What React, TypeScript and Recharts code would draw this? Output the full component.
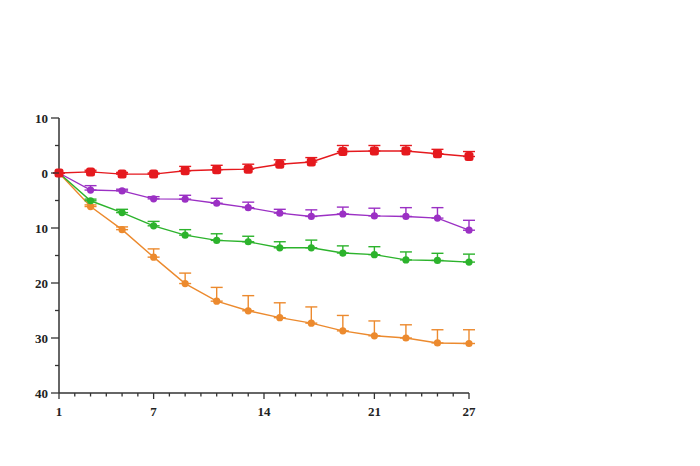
import React from 'react';
import { LineChart, Line, XAxis, YAxis, ErrorBar } from 'recharts';

const days = [1, 3, 5, 7, 9, 11, 13, 15, 17, 19, 21, 23, 25, 27];
const red = [0, 0.2, -0.2, -0.2, 0.4, 0.6, 0.7, 1.6, 2.0, 3.9, 4.0, 4.0, 3.5, 3.0];
const redErr = [0, 0.3, 0.3, 0.2, 0.8, 0.8, 0.9, 0.8, 0.8, 1.1, 1.0, 1.0, 0.8, 0.9];
const purple = [0, -3.1, -3.25, -4.7, -4.75, -5.5, -6.3, -7.3, -7.9, -7.45, -7.8, -7.9, -8.2, -10.4];
const purpleErr = [0, 0.8, 0.3, 0.4, 0.7, 0.9, 1.0, 0.7, 1.2, 1.25, 1.4, 1.6, 1.9, 1.8];
const green = [0, -5.05, -7.2, -9.6, -11.3, -12.25, -12.5, -13.6, -13.6, -14.55, -14.85, -15.8, -15.9, -16.2];
const greenErr = [0, 0.3, 0.6, 0.8, 1.0, 1.2, 1.0, 1.1, 1.4, 1.3, 1.45, 1.45, 1.3, 1.45];
const orange = [0, -6.1, -10.3, -15.3, -20.1, -23.3, -25.05, -26.3, -27.3, -28.7, -29.6, -30.0, -30.9, -31.0];
const orangeErr = [0, 0.3, 0.5, 1.5, 1.9, 2.5, 2.75, 2.7, 2.95, 2.8, 2.7, 2.4, 2.4, 2.5];

const xMajor = [1, 7, 14, 21, 27];
const xTicks = Array.from({ length: 27 }, (_, i) => i + 1);
const yTicks = [-40, -35, -30, -25, -20, -15, -10, -5, 0, 5, 10];

const data = days.map((d, i) => ({
  day: d,
  red: red[i],
  redErr: [0, redErr[i]],
  purple: purple[i],
  purpleErr: [0, purpleErr[i]],
  green: green[i],
  greenErr: [0, greenErr[i]],
  orange: orange[i],
  orangeErr: [0, orangeErr[i]],
}));

const AXIS = '#333333';
const FONT = '"Liberation Serif", "Times New Roman", serif';

const XTick = (props: any) => {
  const { x, y, payload } = props;
  const major = xMajor.includes(payload.value);
  return (
    <g>
      <line x1={x} x2={x} y1={y} y2={y + (major ? 6 : 3.5)} stroke={AXIS} strokeWidth={1.3} />
      {major && (
        <text x={x} y={y + 23} textAnchor="middle" fontFamily={FONT} fontWeight="bold" fontSize={13} fill="#222">
          {payload.value}
        </text>
      )}
    </g>
  );
};

const YTick = (props: any) => {
  const { x, y, payload } = props;
  const major = payload.value % 10 === 0;
  return (
    <g>
      <line x1={x - (major ? 8 : 4)} x2={x} y1={y} y2={y} stroke={AXIS} strokeWidth={1.3} />
      {major && (
        <text x={x - 11} y={y + 4.5} textAnchor="end" fontFamily={FONT} fontWeight="bold" fontSize={13} fill="#222">
          {Math.abs(payload.value)}
        </text>
      )}
    </g>
  );
};

const SquareDot = (props: any) => {
  const { cx, cy, stroke } = props;
  if (cx == null || cy == null) return null;
  return <rect x={cx - 4.5} y={cy - 4.5} width={9} height={9} rx={2.5} fill={stroke} stroke="none" />;
};

const circleDot = (color: string, r: number) => ({ r, fill: color, stroke: color, strokeWidth: 0 });

const C_RED = '#e5191e';
const C_PURPLE = '#9b30c4';
const C_GREEN = '#2cb32c';
const C_ORANGE = '#ec8a2e';

export default function App() {
  return (
    <div style={{ position: 'fixed', left: 0, top: 0, width: 700, height: 466, background: '#fff' }}>
      <LineChart width={700} height={466} data={data} margin={{ top: 118, right: 231, left: 0, bottom: 43 }}>
        <XAxis
          dataKey="day"
          type="number"
          domain={[1, 27]}
          ticks={xTicks}
          interval={0}
          tickSize={0}
          tickMargin={0}
          tickLine={false}
          tick={<XTick />}
          height={30}
          axisLine={{ stroke: AXIS, strokeWidth: 1.5 }}
        />
        <YAxis
          type="number"
          domain={[-40, 10]}
          ticks={yTicks}
          interval={0}
          tickSize={0}
          tickMargin={0}
          tickLine={false}
          tick={<YTick />}
          width={59}
          axisLine={{ stroke: AXIS, strokeWidth: 1.5 }}
        />
        <Line type="linear" dataKey="orange" stroke={C_ORANGE} strokeWidth={1.4} dot={circleDot(C_ORANGE, 3.6)} activeDot={false} isAnimationActive={false}>
          <ErrorBar dataKey="orangeErr" direction="y" width={6} stroke={C_ORANGE} strokeWidth={1.4} />
        </Line>
        <Line type="linear" dataKey="green" stroke={C_GREEN} strokeWidth={1.4} dot={circleDot(C_GREEN, 3.6)} activeDot={false} isAnimationActive={false}>
          <ErrorBar dataKey="greenErr" direction="y" width={6} stroke={C_GREEN} strokeWidth={1.4} />
        </Line>
        <Line type="linear" dataKey="purple" stroke={C_PURPLE} strokeWidth={1.4} dot={circleDot(C_PURPLE, 3.6)} activeDot={false} isAnimationActive={false}>
          <ErrorBar dataKey="purpleErr" direction="y" width={6} stroke={C_PURPLE} strokeWidth={1.4} />
        </Line>
        <Line type="linear" dataKey="red" stroke={C_RED} strokeWidth={1.4} dot={<SquareDot />} activeDot={false} isAnimationActive={false}>
          <ErrorBar dataKey="redErr" direction="y" width={6} stroke={C_RED} strokeWidth={1.4} />
        </Line>
      </LineChart>
    </div>
  );
}
